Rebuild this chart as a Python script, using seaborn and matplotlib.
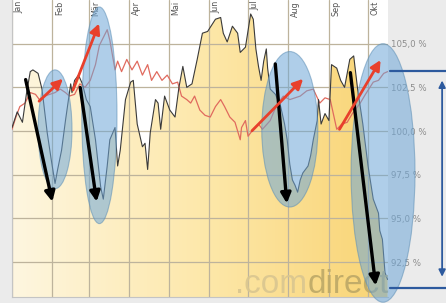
import numpy as np
import pandas as pd
import matplotlib
matplotlib.use("Agg")
import matplotlib.pyplot as plt
import seaborn as sns
from matplotlib.patches import Ellipse
from matplotlib.colors import LinearSegmentedColormap

# Kursverlauf in % (Tag im Jahr)
kurs_tag = [0, 4, 8, 11, 14, 16, 20, 23, 27, 30, 33, 35, 38, 41, 45, 46, 48, 51, 54, 57,
            60, 64, 68, 70, 73, 75, 79, 81, 83, 87, 91, 93, 96, 100, 102, 104, 106, 110, 112, 114,
            117, 121, 125, 128, 131, 134, 138, 142, 146, 150, 156, 160, 162, 165, 169, 173, 175, 179, 183, 185,
            187, 189, 191, 193, 195, 196, 198, 202, 206, 209, 211, 213, 215, 217, 219, 221, 223, 227, 229, 231,
            234, 235, 237, 240, 243, 245, 249, 252, 255, 259, 262, 265, 269, 273, 277, 281, 282, 284, 286, 288]
kurs_wert = [100.2, 101.1, 100.5, 102.1, 103.4, 103.5, 103.3, 102.4, 99.9, 98.4, 97.0, 97.8, 98.9, 100.6, 102.7, 102.2, 102.9, 103.2, 102.7, 101.8,
             101.4, 99.5, 96.8, 96.1, 98.0, 99.5, 100.2, 98.0, 98.9, 101.8, 102.8, 102.9, 100.4, 99.1, 99.3, 97.8, 99.9, 101.8, 101.6, 100.1,
             102.0, 101.2, 100.8, 102.5, 103.7, 102.5, 102.7, 104.1, 105.6, 105.7, 106.4, 106.5, 105.6, 105.1, 106.0, 105.6, 104.5, 104.8, 106.7, 106.4,
             104.7, 103.7, 102.9, 104.0, 104.7, 103.6, 102.4, 102.1, 101.4, 100.4, 99.5, 98.1, 97.2, 96.9, 96.5, 97.2, 97.6, 98.0, 98.6, 99.5,
             100.6, 101.8, 100.4, 101.0, 100.6, 103.8, 103.6, 102.9, 102.5, 104.1, 104.3, 102.4, 100.4, 98.0, 96.1, 95.3, 94.3, 93.8, 91.9, 91.5]

# Vergleichsindex in %
vergl_tag = [0, 3, 6, 10, 14, 18, 21, 25, 29, 33, 37, 41, 44, 48, 52, 56, 60, 64, 67, 71,
             73, 75, 79, 81, 84, 88, 92, 96, 100, 104, 107, 111, 115, 119, 123, 127, 130, 134, 137, 140,
             144, 148, 152, 156, 160, 163, 167, 171, 175, 176, 179, 181, 185, 189, 192, 198, 203, 208, 213, 221,
             226, 231, 236, 240, 244, 249, 253, 257, 261, 267, 271, 277, 281, 285, 288]
vergl_wert = [100.1, 100.8, 101.4, 101.6, 102.2, 102.1, 101.8, 102.0, 102.1, 102.2, 102.4, 102.2, 102.0, 102.1, 102.7, 102.5, 102.9, 103.8, 104.9, 105.5,
              105.8, 105.2, 103.5, 104.0, 103.4, 104.1, 103.5, 104.0, 103.2, 103.8, 102.9, 103.4, 102.9, 103.2, 102.7, 102.8, 102.0, 101.8, 101.6, 102.0,
              101.2, 100.9, 100.8, 101.4, 101.8, 101.4, 100.8, 100.5, 99.5, 100.2, 100.6, 99.7, 100.1, 100.4, 100.1, 100.6, 101.5, 102.0, 101.8, 102.0,
              102.3, 102.4, 101.6, 101.9, 101.8, 100.1, 100.4, 100.5, 101.0, 101.6, 102.1, 102.8, 102.9, 103.3, 103.4]

monat_tag = [0, 31, 59, 90, 120, 151, 181, 212, 243, 273]
monat_namen = ["Jan", "Feb", "Mär", "Apr", "Mai", "Jun", "Jul", "Aug", "Sep", "Okt"]
y_ticks = [92.5, 95.0, 97.5, 100.0, 102.5, 105.0]
y_labels = ["92,5 %", "95,0 %", "97,5 %", "100,0 %", "102,5 %", "105,0 %"]

# Markierungen: Ellipsen (Mitte Tag, Mitte Wert, Breite, Hoehe)
ellipsen = [(33, 100.1, 26, 6.8), (67, 100.9, 27, 12.4), (213, 100.1, 43, 8.9), (284.5, 97.6, 49, 14.8)]
# Pfeile: (von Tag, von Wert, nach Tag, nach Wert)
pfeile_runter = [(10, 103.1, 31.4, 95.8), (52, 102.65, 65.2, 95.8), (201.7, 104.0, 210.9, 95.7), (259.2, 103.5, 279.1, 91.0)]
pfeile_hoch = [(19.2, 101.6, 40.6, 103.1), (46, 102.2, 67.5, 106.3), (182.5, 99.9, 224.7, 103.1), (250, 99.96, 283.7, 104.2)]

df_kurs = pd.DataFrame({"tag": kurs_tag, "wert": kurs_wert})
df_vergl = pd.DataFrame({"tag": vergl_tag, "wert": vergl_wert})

sns.set_style("white")
plt.rcParams['font.family'] = ['DejaVu Sans']

fig = plt.figure(figsize=(4.46, 3.03), dpi=100, facecolor="#ebebeb")
ax = fig.add_axes([12 / 446, 6 / 303, 376 / 446, 297 / 303])
ax.set_facecolor("white")

x_max, y_min, y_max = 288.3, 90.5, 107.5

# gelber Verlauf unter der Kurve
cmap = LinearSegmentedColormap.from_list("gelb", ["#fef6e0", "#fde8ab", "#f9d474"])
grad = np.linspace(0, 1, 256).reshape(1, -1)
img = ax.imshow(grad, extent=[0, x_max, y_min, y_max], aspect="auto", cmap=cmap, zorder=0)
flaeche = ax.fill_between(df_kurs["tag"], df_kurs["wert"], y_min, color="none", lw=0)
img.set_clip_path(flaeche.get_paths()[0], transform=ax.transData)

sns.lineplot(data=df_vergl, x="tag", y="wert", color="#e06a5e", lw=0.9, ax=ax, zorder=3)
sns.lineplot(data=df_kurs, x="tag", y="wert", color="#3a3a3a", lw=0.8, ax=ax, zorder=3)

ax.set_xlim(0, x_max)
ax.set_ylim(y_min, y_max)
ax.set_xticks(monat_tag)
ax.set_xticklabels([])
ax.set_yticks(y_ticks)
ax.set_yticklabels(y_labels)
ax.yaxis.tick_right()
ax.tick_params(axis="both", length=0)
ax.tick_params(axis="y", pad=2, labelsize=6.2, labelcolor="#8c8c8c")
ax.grid(True, color="#bdb39c", lw=0.9)
ax.set_xlabel("")
ax.set_ylabel("")
for s in ["top", "right"]:
    ax.spines[s].set_visible(False)
for s in ["left", "bottom"]:
    ax.spines[s].set_color("#c4c4c4")
    ax.spines[s].set_linewidth(0.8)

for tag, name in zip(monat_tag, monat_namen):
    ax.text(tag + 1.8, 0.997, name, transform=ax.get_xaxis_transform(), rotation=90,
            ha="left", va="top", fontsize=5.8, color="#555555", zorder=4)

# Wasserzeichen
wz = ax.text(171, 90.75, ".com", fontsize=24, color="#d9c690", alpha=0.9, va="baseline",
             family=["Liberation Sans", "DejaVu Sans"], zorder=4)
ax.annotate("direct", xy=(1, 0), xycoords=wz, va="bottom", ha="left", fontsize=24,
            color="#bca867", alpha=0.9, family=["Liberation Sans", "DejaVu Sans"], zorder=4)

for cx, cy, w, h in ellipsen:
    ax.add_patch(Ellipse((cx, cy), w, h, facecolor="#6ea7d8", alpha=0.55,
                         edgecolor="#5e8fb5", lw=0.8, clip_on=False, zorder=5))

for x0, y0, x1, y1 in pfeile_runter:
    ax.annotate("", xy=(x1, y1), xytext=(x0, y0), annotation_clip=False, zorder=6,
                arrowprops=dict(arrowstyle="-|>,head_length=0.6,head_width=0.3", color="black", lw=2.4))
for x0, y0, x1, y1 in pfeile_hoch:
    ax.annotate("", xy=(x1, y1), xytext=(x0, y0), annotation_clip=False, zorder=6,
                arrowprops=dict(arrowstyle="-|>,head_length=0.6,head_width=0.3", color="#e8402c", lw=2.0))

# Spannweite rechts
blau = "#2d5a9e"
ax.plot([289.9, 333], [103.45, 103.45], color=blau, lw=1.6, clip_on=False, zorder=6)
ax.plot([289.9, 333], [91.0, 91.0], color=blau, lw=1.6, clip_on=False, zorder=6)
ax.annotate("", xy=(329.8, 91.5), xytext=(329.8, 103.05), annotation_clip=False, zorder=6,
            arrowprops=dict(arrowstyle="<|-|>,head_length=0.4,head_width=0.2", color=blau, lw=1.3))

plt.savefig("out.png", dpi=100, facecolor=fig.get_facecolor())
